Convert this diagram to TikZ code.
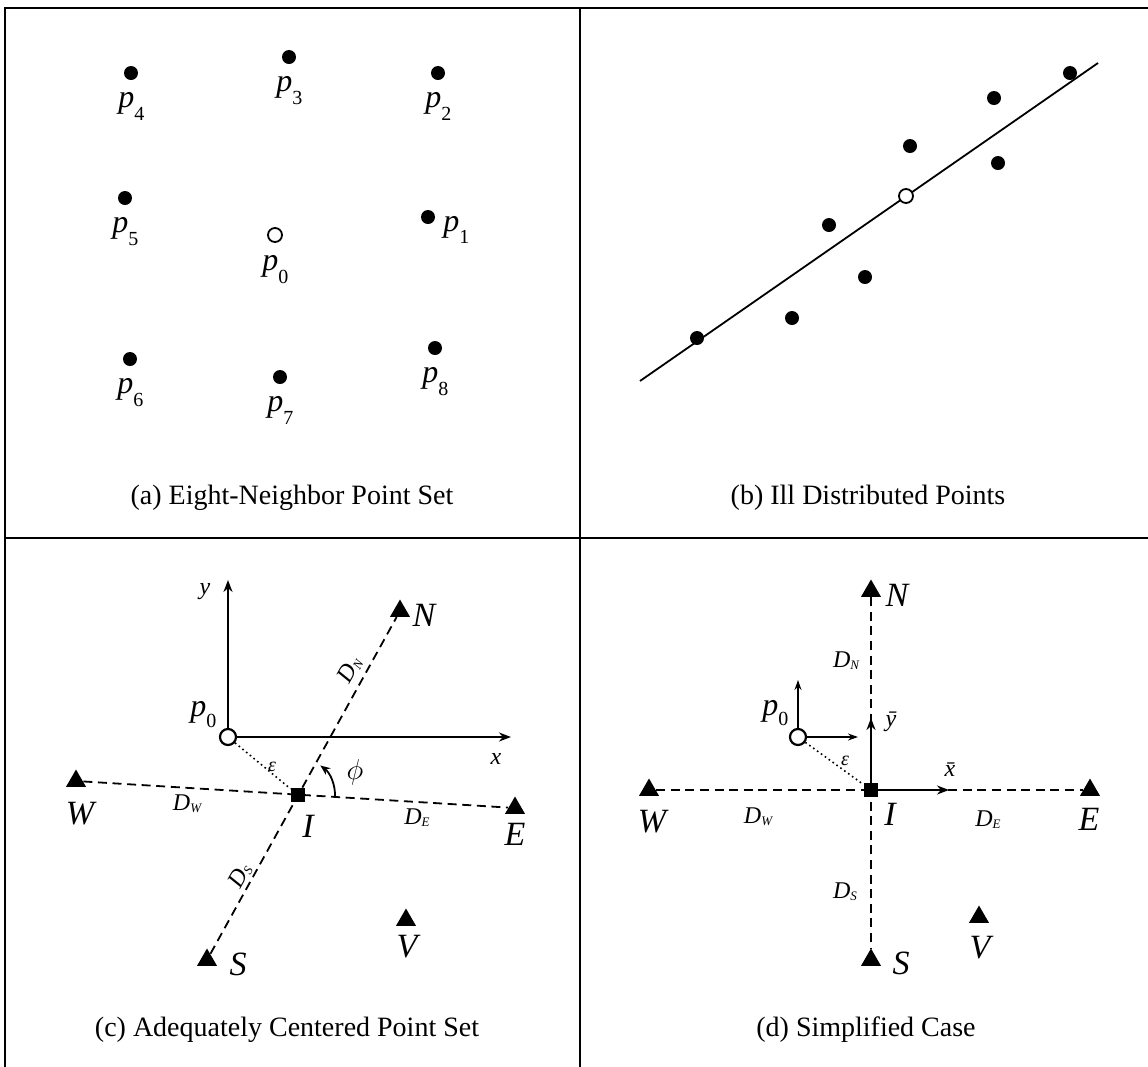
\documentclass[tikz,border=0pt]{standalone}
\usepackage{fontspec}
\setmainfont{Liberation Serif}
\usetikzlibrary{arrows.meta,shapes.geometric}
\newcommand\sbs[3]{\raisebox{-#2}{\fontsize{#1}{#1}\selectfont #3}}
\begin{document}
\begin{tikzpicture}[x=0.5pt,y=-0.5pt,
  frm/.style={line width=0.9pt},
  dotp/.style={circle,fill,inner sep=0pt,minimum size=7pt},
  opn/.style={circle,draw,line width=0.9pt,inner sep=0pt,minimum size=7pt},
  opnb/.style={circle,draw,line width=1.1pt,inner sep=0pt,minimum size=8pt},
  tri/.style={regular polygon,regular polygon sides=3,fill,inner sep=0pt,minimum size=11.5pt},
  sqr/.style={rectangle,fill,inner sep=0pt,minimum size=7pt},
  dsh/.style={line width=0.9pt,dash pattern=on 4.5pt off 2.8pt},
  dtd/.style={line width=0.8pt,dash pattern=on 0.8pt off 1.6pt},
  axs/.style={line width=1pt,-{Stealth[length=6pt,width=4.5pt]}},
  thinax/.style={line width=0.7pt,-{Stealth[length=5pt,width=3.5pt]}},
  capt/.style={font=\fontsize{14}{16}\selectfont},
  lab/.style={font=\fontsize{16}{18}\selectfont\itshape,inner sep=0pt},
  big/.style={font=\fontsize{17}{19}\selectfont\itshape,inner sep=0pt},
  dl/.style={font=\fontsize{12}{14}\selectfont\itshape,inner sep=0pt},
  sml/.style={font=\fontsize{12}{14}\selectfont\itshape,inner sep=0pt}]
\useasboundingbox (0,0) rectangle (1148,1067);
% frame
\draw[frm] (5,1067) -- (5,8) -- (1148,8);
\draw[frm] (580,8) -- (580,1067);
\draw[frm] (5,538) -- (1148,538);

% ---------- (a)
\node[dotp] (a1) at (428,217) {};
\node[dotp] (a2) at (438,73) {};
\node[dotp] (a3) at (289,57) {};
\node[dotp] (a4) at (131,73) {};
\node[dotp] (a5) at (125,198) {};
\node[opn]  (a0) at (275,235) {};
\node[dotp] (a6) at (130,359) {};
\node[dotp] (a7) at (280,377) {};
\node[dotp] (a8) at (435,348) {};
\node[lab,anchor=base west] (la1) at (443,231) {p\sbs{10pt}{6pt}{\upshape 1}};
\node[lab,anchor=base west] (la2) at (425,107) {p\sbs{10pt}{6.5pt}{\upshape 2}};
\node[lab,anchor=base west] (la3) at (276,91) {p\sbs{10pt}{6.5pt}{\upshape 3}};
\node[lab,anchor=base west] (la4) at (118,107) {p\sbs{10pt}{6.5pt}{\upshape 4}};
\node[lab,anchor=base west] (la5) at (112,232) {p\sbs{10pt}{6.5pt}{\upshape 5}};
\node[lab,anchor=base west] (la0) at (262,270) {p\sbs{10pt}{6.5pt}{\upshape 0}};
\node[lab,anchor=base west] (la6) at (117,393) {p\sbs{10pt}{6.5pt}{\upshape 6}};
\node[lab,anchor=base west] (la7) at (267,411) {p\sbs{10pt}{6.5pt}{\upshape 7}};
\node[lab,anchor=base west] (la8) at (422,382) {p\sbs{10pt}{6.5pt}{\upshape 8}};
\node[capt] (capa) at (292,498) {(a) Eight-Neighbor Point Set};

% ---------- (b)
\coordinate (bl1) at (640,381);
\coordinate (bl2) at (1098,63);
\draw[line width=0.9pt] (bl1) -- (bl2);
\node[dotp] (b1) at (697,338) {};
\node[dotp] (b2) at (792,318) {};
\node[dotp] (b3) at (829,225) {};
\node[dotp] (b4) at (865,277) {};
\node[dotp] (b5) at (910,146) {};
\node[dotp] (b6) at (994,98) {};
\node[dotp] (b7) at (998,163) {};
\node[dotp] (b8) at (1070,73) {};
\node[opn,fill=white] (b0) at (906,196) {};
\node[capt] (capb) at (868,498) {(b) Ill Distributed Points};

% ---------- (c)
\node[tri] (cN) at (400,611) {};
\node[tri] (cS) at (207,960) {};
\node[tri] (cW) at (76,781) {};
\node[tri] (cE) at (515,808) {};
\node[tri] (cV) at (406,920) {};
\node[opnb] (cP) at (228,737) {};
\coordinate (cy) at (228,580);
\coordinate (cx) at (511,737);
\draw[axs] (cP) -- (cy);
\draw[axs] (cP) -- (cx);
\draw[dsh] (cS) -- (cN);
\draw[dsh] (cW) -- (cE);
\node[sqr] (cI) at (298,795) {};
\draw[dtd] (cP) -- (cI);
\draw[line width=0.9pt,-{Stealth[length=5pt,width=4pt]}] ([shift={(3:37)}]cI.center) arc[start angle=3,end angle=-53,radius=37];
\node[sml] (lcy) at (205,592) {y};
\node[sml] (lcx) at (496,759) {x};
\node[lab,anchor=base west] (lcP) at (190,716) {p\sbs{10pt}{5.5pt}{\upshape 0}};
\node[big] (lcN) at (424,615) {N};
\node[big] (lcS) at (238,964) {S};
\node[big] (lcW) at (80,814) {W};
\node[big] (lcE) at (515,834) {E};
\node[big] (lcV) at (407,947) {V};
\node[big] (lcI) at (308,826) {I};
\node[font=\fontsize{15}{17}\selectfont,inner sep=0pt] (lphi) at (355,772) {$\phi$};
\node[dl,font=\fontsize{10}{12}\selectfont\itshape] (lce) at (272,767) {ε};
\node[dl,rotate=61] (lcDN) at (350,670) {D\sbs{6.5pt}{1pt}{N}};
\node[dl,rotate=61] (lcDS) at (240,876) {D\sbs{6.5pt}{1pt}{S}};
\node[dl] (lcDW) at (187,804) {D\sbs{6.5pt}{1pt}{W}};
\node[dl] (lcDE) at (417,818) {D\sbs{6.5pt}{1pt}{E}};
\node[capt] (capc) at (287,1030) {(c) Adequately Centered Point Set};

% ---------- (d)
\node[tri] (dN) at (871,591) {};
\node[tri] (dS) at (871,960) {};
\node[tri] (dW) at (649,790) {};
\node[tri] (dE) at (1090,790) {};
\node[tri] (dV) at (979,917) {};
\node[opnb] (dP) at (798,737) {};
\draw[dsh] (dN) -- (dS);
\draw[dsh] (dW) -- (dE);
\node[sqr] (dI) at (871,790) {};
\draw[dtd] (dP) -- (dI);
\coordinate (dpy) at (798,680);
\coordinate (dpx) at (858,737);
\draw[thinax] (dP) -- (dpy);
\draw[thinax] (dP) -- (dpx);
\coordinate (dyb) at (871,718);
\coordinate (dxb) at (949,790);
\draw[axs] (dI) -- (dyb);
\draw[axs] (dI) -- (dxb);
\node[lab,anchor=base west] (ldP) at (762,715) {p\sbs{10pt}{5pt}{\upshape 0}};
\node[big] (ldN) at (897,595) {N};
\node[big] (ldS) at (901,963) {S};
\node[big] (ldW) at (652,822) {W};
\node[big] (ldE) at (1089,819) {E};
\node[big] (ldV) at (980,948) {V};
\node[big] (ldI) at (890,814) {I};
\node[sml] (ldyb) at (891,722) {\=y};
\node[sml] (ldxb) at (950,770) {\=x};
\node[dl,font=\fontsize{10}{12}\selectfont\itshape] (lde) at (845,761) {ε};
\node[dl] (ldDN) at (846,661) {D\sbs{6.5pt}{1pt}{N}};
\node[dl] (ldDW) at (758,817) {D\sbs{6.5pt}{1pt}{W}};
\node[dl] (ldDE) at (988,820) {D\sbs{6.5pt}{1pt}{E}};
\node[dl] (ldDS) at (845,892) {D\sbs{6.5pt}{1pt}{S}};
\node[capt] (capd) at (866,1030) {(d) Simplified Case};
\end{tikzpicture}
\end{document}
